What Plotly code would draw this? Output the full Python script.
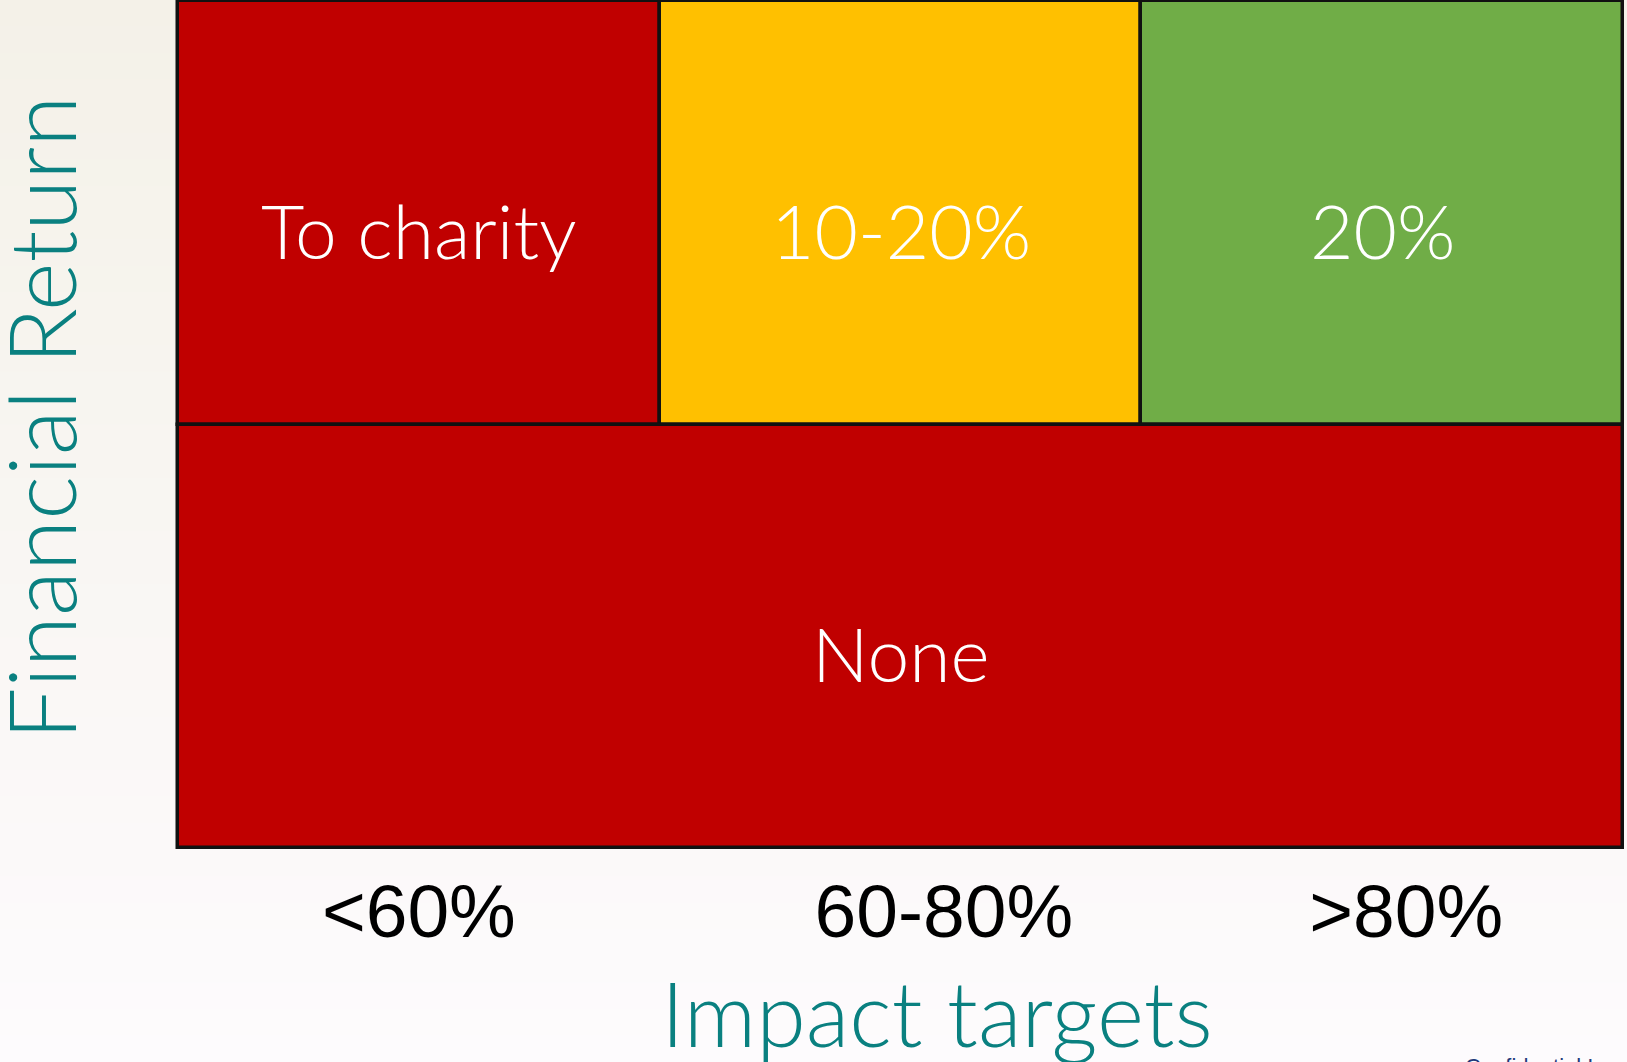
import plotly.graph_objects as go

W, H = 1627, 1062

# ---- data ----
impact_labels = ["<60%", "60-80%", ">80%"]
top_row_labels = ["To charity", "10-20%", "20%"]
top_row_colors = ["#C00000", "#FFC000", "#70AD47"]
bottom_row_label = "None"
bottom_row_color = "#C00000"
x_title = "Impact targets"
y_title = "Financial Return"
footer_text = "Confidential Investment"

# column index (0..2) for top cells; bottom row spans all columns
top_cols = [0, 1, 2]

fig = go.Figure()

# top row: three cells (row 1 -> base 1, height 1)
fig.add_trace(go.Bar(
    x=[c + 0.5 for c in top_cols],
    y=[1] * len(top_cols),
    base=[1] * len(top_cols),
    width=[1] * len(top_cols),
    marker=dict(color=top_row_colors, line=dict(color="#111111", width=3.5)),
    hoverinfo="skip", showlegend=False,
))
# bottom row: one merged cell
fig.add_trace(go.Bar(
    x=[len(top_cols) / 2],
    y=[1],
    base=[0],
    width=[len(top_cols)],
    marker=dict(color=[bottom_row_color], line=dict(color="#111111", width=3.5)),
    hoverinfo="skip", showlegend=False,
))

cell_font = dict(family="Lato, 'Open Sans', sans-serif", size=75, color="white", weight=300)
annotations = []
for c, lab in zip(top_cols, top_row_labels):
    annotations.append(dict(x=c + 0.5, y=1.5, xref="x", yref="y", text=lab,
                            showarrow=False, font=cell_font, yshift=-17))
annotations.append(dict(x=len(top_cols) / 2, y=0.5, xref="x", yref="y",
                        text=bottom_row_label, showarrow=False, font=cell_font, yshift=-17))

# titles
title_font = dict(family="Lato, 'Open Sans', sans-serif", size=90, color="#0A8080", weight=300)
annotations.append(dict(x=937 / W, y=1 - 1012 / H, xref="paper", yref="paper",
                        text=x_title, showarrow=False, font=title_font,
                        xanchor="center", yanchor="middle"))
annotations.append(dict(x=40 / W, y=1 - 418 / H, xref="paper", yref="paper",
                        text=y_title, showarrow=False,
                        font=dict(title_font, size=93), textangle=-90,
                        xanchor="center", yanchor="middle"))
annotations.append(dict(x=1463 / W, y=1 - 1052 / H, xref="paper", yref="paper",
                        text=footer_text, showarrow=False,
                        font=dict(family="Arial, 'Liberation Sans'", size=22, color="#1F3A7A"),
                        xanchor="left", yanchor="top"))

# background gradient bands
shapes = []
n = 40
top_c = (244, 241, 232)
bot_c = (253, 251, 253)
for i in range(n):
    t = i / (n - 1)
    col = tuple(round(top_c[k] + (bot_c[k] - top_c[k]) * t) for k in range(3))
    shapes.append(dict(type="rect", xref="paper", yref="paper",
                       x0=0, x1=1, y0=1 - (i + 1) / n - 0.001, y1=1 - i / n,
                       fillcolor="rgb(%d,%d,%d)" % col, line=dict(width=0), layer="below"))

px_per_x = 481.7
x_left_px, x_right_px = 175, 1626
x0 = -(178 - x_left_px) / px_per_x
x1 = 3 + (x_right_px - 1623) / px_per_x
y_unit = 423.5
y_bot_px = 851
y0 = -(y_bot_px - 848) / y_unit
y1 = 2 + 1 / y_unit

fig.update_layout(
    width=W, height=H,
    margin=dict(l=0, r=0, t=0, b=0),
    paper_bgcolor="#FBF9F8", plot_bgcolor="rgba(0,0,0,0)",
    barmode="overlay", bargap=0,
    shapes=shapes, annotations=annotations,
    xaxis=dict(range=[x0, x1], domain=[x_left_px / W, x_right_px / W],
               showgrid=False, zeroline=False, showline=False, ticks="",
               tickmode="array", tickvals=[0.5, 1.59, 2.55], ticktext=impact_labels,
               tickfont=dict(family="Arial, 'Liberation Sans', sans-serif", size=75, color="black"),
               ticklabelstandoff=10, fixedrange=True),
    yaxis=dict(range=[y0, y1], domain=[1 - y_bot_px / H, 1],
               showgrid=False, zeroline=False, showline=False, showticklabels=False,
               ticks="", fixedrange=True),
)

fig.write_html("out.html", config={"displayModeBar": False},
               post_script="document.body.style.margin='0px';document.body.style.overflow='hidden';")
